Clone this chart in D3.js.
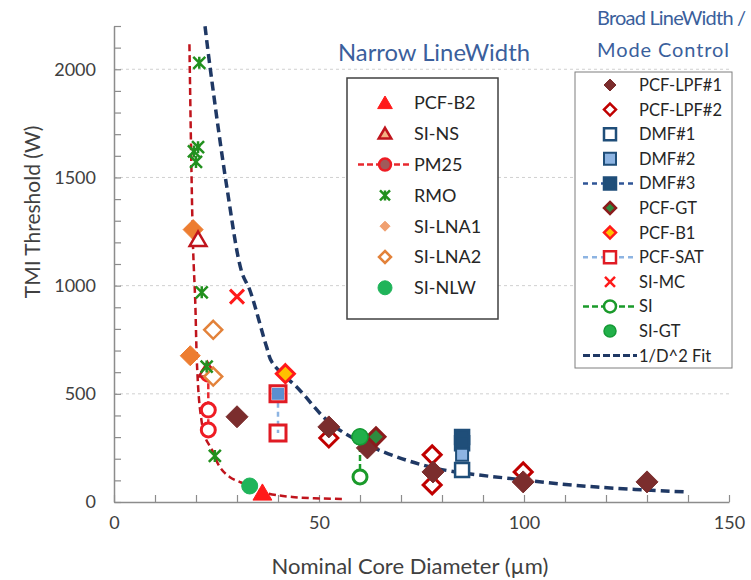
<!DOCTYPE html>
<html>
<head>
<meta charset="utf-8">
<script src="https://cdn.jsdelivr.net/npm/d3@7"></script>
<style>
  body { margin: 0; background: #fff; }
  svg { font-family: Lato, "Open Sans", sans-serif; }
</style>
</head>
<body>
<div id="chart"></div>
<script>
// axis ticks
const xTicks = [0, 50, 100, 150]
const yTicks = [0, 500, 1000, 1500, 2000]

// narrow linewidth data [diameter um, threshold W]
const pcfB2 = [[36.2, 42]]
const siNS = [[20.5, 1213], [22.8, 610]]
const pm25 = [[23, 590], [23, 425], [23, 333]]
const rmo = [[20.8, 2030], [19.5, 1620], [20.5, 1640], [20, 1572], [21.4, 969], [22.6, 626], [24.6, 213]]
const siLNA1 = [[19.3, 1259], [18.6, 676]]
const siLNA2 = [[24.2, 796], [24.2, 580]]
const siNLW = [[33.1, 74]]

// broad linewidth / mode control data
const pcfLPF1 = [[30, 394], [52.4, 347], [61.8, 250], [77.8, 139], [99.8, 93], [130, 93]]
const pcfLPF2 = [[52.4, 296], [77.6, 218], [77.6, 79], [99.8, 139]]
const dmf1 = [[84.9, 148]]
const dmf2 = [[84.9, 218], [40, 500]]
const dmf3 = [[84.9, 300], [84.9, 272]]
const pcfGT = [[63.9, 301]]
const pcfB1 = [[41.8, 593]]
const pcfSAT = [[40, 500], [40, 319]]
const siMC = [[30, 949]]
const si = [[60, 300], [60, 116]]
const siGT = [[60, 301]]

// fitted curves
const narrowFit = [[18.4, 2116], [18.8, 1630], [19.3, 1167], [19.8, 935], [20.3, 611], [21.0, 426],
  [22.2, 301], [23.9, 241], [25.8, 162], [28.2, 116], [32.4, 79], [36.2, 46], [43.5, 23], [55.6, 14]]
const broadFit = [[22.2, 2199], [23.4, 2014], [27.5, 1458], [31.2, 1060], [33.1, 981], [37.2, 718],
  [38.6, 644], [45.2, 519], [52.4, 370], [60.7, 273], [77.1, 162], [99.8, 102], [117.8, 69], [140, 46]]

const W = 751, H = 580
const margin = {left: 114, right: 22, top: 26, bottom: 78}

const svg = d3.select('#chart').append('svg')
  .attr('width', W).attr('height', H)

const x = d3.scaleLinear().domain([0, 150]).range([margin.left, W - margin.right])
const y = d3.scaleLinear().domain([0, 2200]).range([H - margin.bottom, margin.top])

// marker shapes by half size r
function shape(type, r) {
  const p = d3.path()
  if (type === 'diamond') {
    p.moveTo(0, -r); p.lineTo(r, 0); p.lineTo(0, r); p.lineTo(-r, 0); p.closePath()
  } else if (type === 'square') {
    p.rect(-r, -r, 2 * r, 2 * r)
  } else if (type === 'triangle') {
    p.moveTo(0, -r); p.lineTo(r * 1.05, r * 0.8); p.lineTo(-r * 1.05, r * 0.8); p.closePath()
  } else if (type === 'circle') {
    p.arc(0, 0, r, 0, 2 * Math.PI)
  } else if (type === 'x') {
    p.moveTo(-r, -r); p.lineTo(r, r); p.moveTo(-r, r); p.lineTo(r, -r)
  } else if (type === 'star') {
    p.moveTo(-r, -r); p.lineTo(r, r); p.moveTo(-r, r); p.lineTo(r, -r)
    p.moveTo(0, -r); p.lineTo(0, r)
  }
  return p.toString()
}

// series styles
const narrowSeries = [
  {name: 'PCF-B2', data: pcfB2, type: 'triangle', r: 9, fill: '#ff1a1a', stroke: '#ff1a1a', sw: 1, lr: 7},
  {name: 'SI-NS', data: siNS, type: 'triangle', r: 8, fill: '#fff', stroke: '#c0141c', sw: 2.5, lr: 6, lfill: '#f4b183'},
  {name: 'PM25', data: pm25, type: 'circle', r: 7, fill: '#fff', stroke: '#ee1c24', sw: 3, lr: 6, lfill: '#a05a5a',
    line: '#e8282e', dash: '6,3'},
  {name: 'RMO', data: rmo, type: 'star', r: 6, fill: 'none', stroke: '#22901e', sw: 2.5, lr: 5},
  {name: 'SI-LNA1', data: siLNA1, type: 'diamond', r: 10, fill: '#ed7d31', stroke: '#ed7d31', sw: 1, lr: 5, lfill: '#f0a070', lstroke: '#f0a070'},
  {name: 'SI-LNA2', data: siLNA2, type: 'diamond', r: 9, fill: '#fff', stroke: '#e3823a', sw: 2.5, lr: 6},
  {name: 'SI-NLW', data: siNLW, type: 'circle', r: 8, fill: '#1fb45a', stroke: '#1fb45a', sw: 1, lr: 7}
]
const broadSeries = [
  {name: 'PCF-LPF#1', data: pcfLPF1, type: 'diamond', r: 11, fill: '#7b2d2d', stroke: '#7b2d2d', sw: 1, lr: 6},
  {name: 'PCF-LPF#2', data: pcfLPF2, type: 'diamond', r: 9, fill: '#fff', stroke: '#c00000', sw: 3, lr: 6},
  {name: 'DMF#1', data: dmf1, type: 'square', r: 7, fill: '#fff', stroke: '#1f4e79', sw: 2.5, lr: 6},
  {name: 'DMF#2', data: dmf2, type: 'square', r: 6, fill: '#8db4e2', stroke: '#1f4e79', sw: 2, lr: 6, pfill: ['#8db4e2', '#5b8fd0'], pstroke: ['#1f4e79', 'none']},
  {name: 'DMF#3', data: dmf3, type: 'square', r: 7, fill: '#1f4e79', stroke: '#1f4e79', sw: 2.5, lr: 6,
    line: '#2f5597', dash: '5,4'},
  {name: 'PCF-GT', data: pcfGT, type: 'diamond', r: 9, fill: '#2e8b3e', stroke: '#8b1c1c', sw: 3, lr: 6},
  {name: 'PCF-B1', data: pcfB1, type: 'diamond', r: 9, fill: '#ffc000', stroke: '#ff1a1a', sw: 3, lr: 6},
  {name: 'PCF-SAT', data: pcfSAT, type: 'square', r: 8, fill: 'none', stroke: '#e01b24', sw: 3, lr: 6,
    line: '#8db4e2', dash: '5,4'},
  {name: 'SI-MC', data: siMC, type: 'x', r: 7, fill: 'none', stroke: '#ff1a1a', sw: 3, lr: 5},
  {name: 'SI', data: si, type: 'circle', r: 7, fill: '#fff', stroke: '#1a9a2a', sw: 3, lr: 6,
    line: '#1a9a2a', dash: '6,3'},
  {name: 'SI-GT', data: siGT, type: 'circle', r: 8, fill: '#22b04a', stroke: '#159a35', sw: 1.5, lr: 6},
  {name: '1/D^2 Fit', fit: true}
]

// gridlines
svg.append('g').selectAll('line')
  .data(yTicks.filter(d => d > 0))
  .join('line')
  .attr('x1', x(0)).attr('x2', x(150))
  .attr('y1', d => y(d)).attr('y2', d => y(d))
  .attr('stroke', '#d0d0d0').attr('stroke-width', 1).attr('stroke-dasharray', '3,3')

// axes
const xAxis = d3.axisBottom(x)
  .tickValues(d3.range(0, 151, 10))
  .tickSize(-7).tickSizeOuter(0).tickPadding(14)
  .tickFormat(d => xTicks.includes(d) ? d : '')
const yAxis = d3.axisLeft(y)
  .tickValues(d3.range(0, 2201, 100))
  .tickSize(-7).tickSizeOuter(0).tickPadding(18)
  .tickFormat(d => yTicks.includes(d) ? d : '')

const gx = svg.append('g').attr('transform', `translate(0,${y(0)})`).call(xAxis)
const gy = svg.append('g').attr('transform', `translate(${x(0)},0)`).call(yAxis)
;[gx, gy].forEach(g => {
  g.select('.domain').attr('stroke', '#8c8c8c').attr('stroke-width', 1.5)
  g.selectAll('.tick line').attr('stroke', '#8c8c8c').attr('stroke-width', 1.2)
  g.selectAll('.tick text').attr('fill', '#404040').style('font-size', '18px').style('font-family', 'Lato, sans-serif')
})

// axis titles
svg.append('text')
  .attr('x', 410).attr('y', 574)
  .attr('text-anchor', 'middle')
  .attr('fill', '#404040').style('font-size', '22px')
  .text('Nominal Core Diameter (\u00b5m)')
svg.append('text')
  .attr('transform', 'translate(40,212) rotate(-90)')
  .attr('text-anchor', 'middle')
  .attr('fill', '#404040').style('font-size', '21px')
  .text('TMI Threshold (W)')

// fit curves
svg.append('path').datum(narrowFit)
  .attr('d', d3.line().x(d => x(d[0])).y(d => y(d[1])).curve(d3.curveCatmullRom))
  .attr('fill', 'none').attr('stroke', '#c0141c').attr('stroke-width', 2.5).attr('stroke-dasharray', '7,4')
svg.append('path').datum(broadFit)
  .attr('d', d3.line().x(d => x(d[0])).y(d => y(d[1])).curve(d3.curveCatmullRom))
  .attr('fill', 'none').attr('stroke', '#1f3864').attr('stroke-width', 3.5).attr('stroke-dasharray', '9,5')

// series lines and markers
const allSeries = narrowSeries.concat(broadSeries).filter(s => !s.fit)
allSeries.forEach(s => {
  if (s.line) {
    svg.append('path').datum(s.data)
      .attr('d', d3.line().x(d => x(d[0])).y(d => y(d[1])))
      .attr('fill', 'none').attr('stroke', s.line).attr('stroke-width', 2.5).attr('stroke-dasharray', s.dash)
  }
})
const drawOrder = ['SI-LNA1', 'PM25', 'SI-NS', 'PCF-B2', 'SI-NLW', 'SI-LNA2', 'RMO', 'PCF-LPF#2', 'PCF-LPF#1', 'PCF-GT',
  'PCF-B1', 'PCF-SAT', 'DMF#3', 'DMF#2', 'DMF#1', 'SI-MC', 'SI', 'SI-GT']
drawOrder.forEach(n => {
  const s = allSeries.find(t => t.name === n)
  svg.append('g').selectAll('path')
    .data(s.data)
    .join('path')
    .attr('transform', d => `translate(${x(d[0])},${y(d[1])})`)
    .attr('d', shape(s.type, s.r))
    .attr('fill', (d, i) => s.pfill ? s.pfill[i] : s.fill)
    .attr('stroke', (d, i) => s.pstroke ? s.pstroke[i] : s.stroke)
    .attr('stroke-width', s.sw)
})

// legend boxes
function legend(series, bx, by, bw, bh, rowY, rowH, mx, tx, fs, border, bwid) {
  const g = svg.append('g')
  g.append('rect').attr('x', bx).attr('y', by).attr('width', bw).attr('height', bh)
    .attr('fill', '#fff').attr('stroke', border).attr('stroke-width', bwid)
  series.forEach((s, i) => {
    const cy = rowY + i * rowH
    if (s.fit) {
      g.append('line').attr('x1', mx - 27).attr('x2', tx - 2).attr('y1', cy).attr('y2', cy)
        .attr('stroke', '#1f3864').attr('stroke-width', 3).attr('stroke-dasharray', '7,3')
    } else {
      if (s.line) {
        g.append('line').attr('x1', mx - 27).attr('x2', tx - 3).attr('y1', cy).attr('y2', cy)
          .attr('stroke', s.line).attr('stroke-width', 2.5).attr('stroke-dasharray', s.dash)
      }
      g.append('path').attr('transform', `translate(${mx},${cy})`)
        .attr('d', shape(s.type, s.lr))
        .attr('fill', s.lfill || (s.fill === 'none' && s.line ? '#fff' : s.fill))
        .attr('stroke', s.lstroke || s.stroke)
        .attr('stroke-width', Math.min(s.sw, 2.5))
    }
    g.append('text').attr('x', tx).attr('y', cy).attr('dy', '0.36em')
      .attr('fill', '#262626').style('font-size', fs + 'px')
      .text(s.name)
  })
}
legend(narrowSeries, 347, 78, 151, 241, 103, 30.8, 385, 414, 18, '#404040', 1.5)
legend(broadSeries, 575, 72, 157, 296, 85, 24.6, 610, 639, 16.5, '#7f7f7f', 1)

// group titles
const titleColor = '#3b5f9c'
svg.append('text').attr('x', 338).attr('y', 61).attr('fill', titleColor)
  .attr('textLength', 192).attr('lengthAdjust', 'spacingAndGlyphs')
  .style('font-size', '23px').text('Narrow LineWidth')
svg.append('text').attr('x', 597).attr('y', 25).attr('fill', titleColor)
  .style('font-size', '20px').style('letter-spacing', '-0.8px').text('Broad LineWidth /')
svg.append('text').attr('x', 597).attr('y', 57).attr('fill', titleColor)
  .style('font-size', '20px').style('letter-spacing', '0.9px').text('Mode Control')
</script>
</body>
</html>
